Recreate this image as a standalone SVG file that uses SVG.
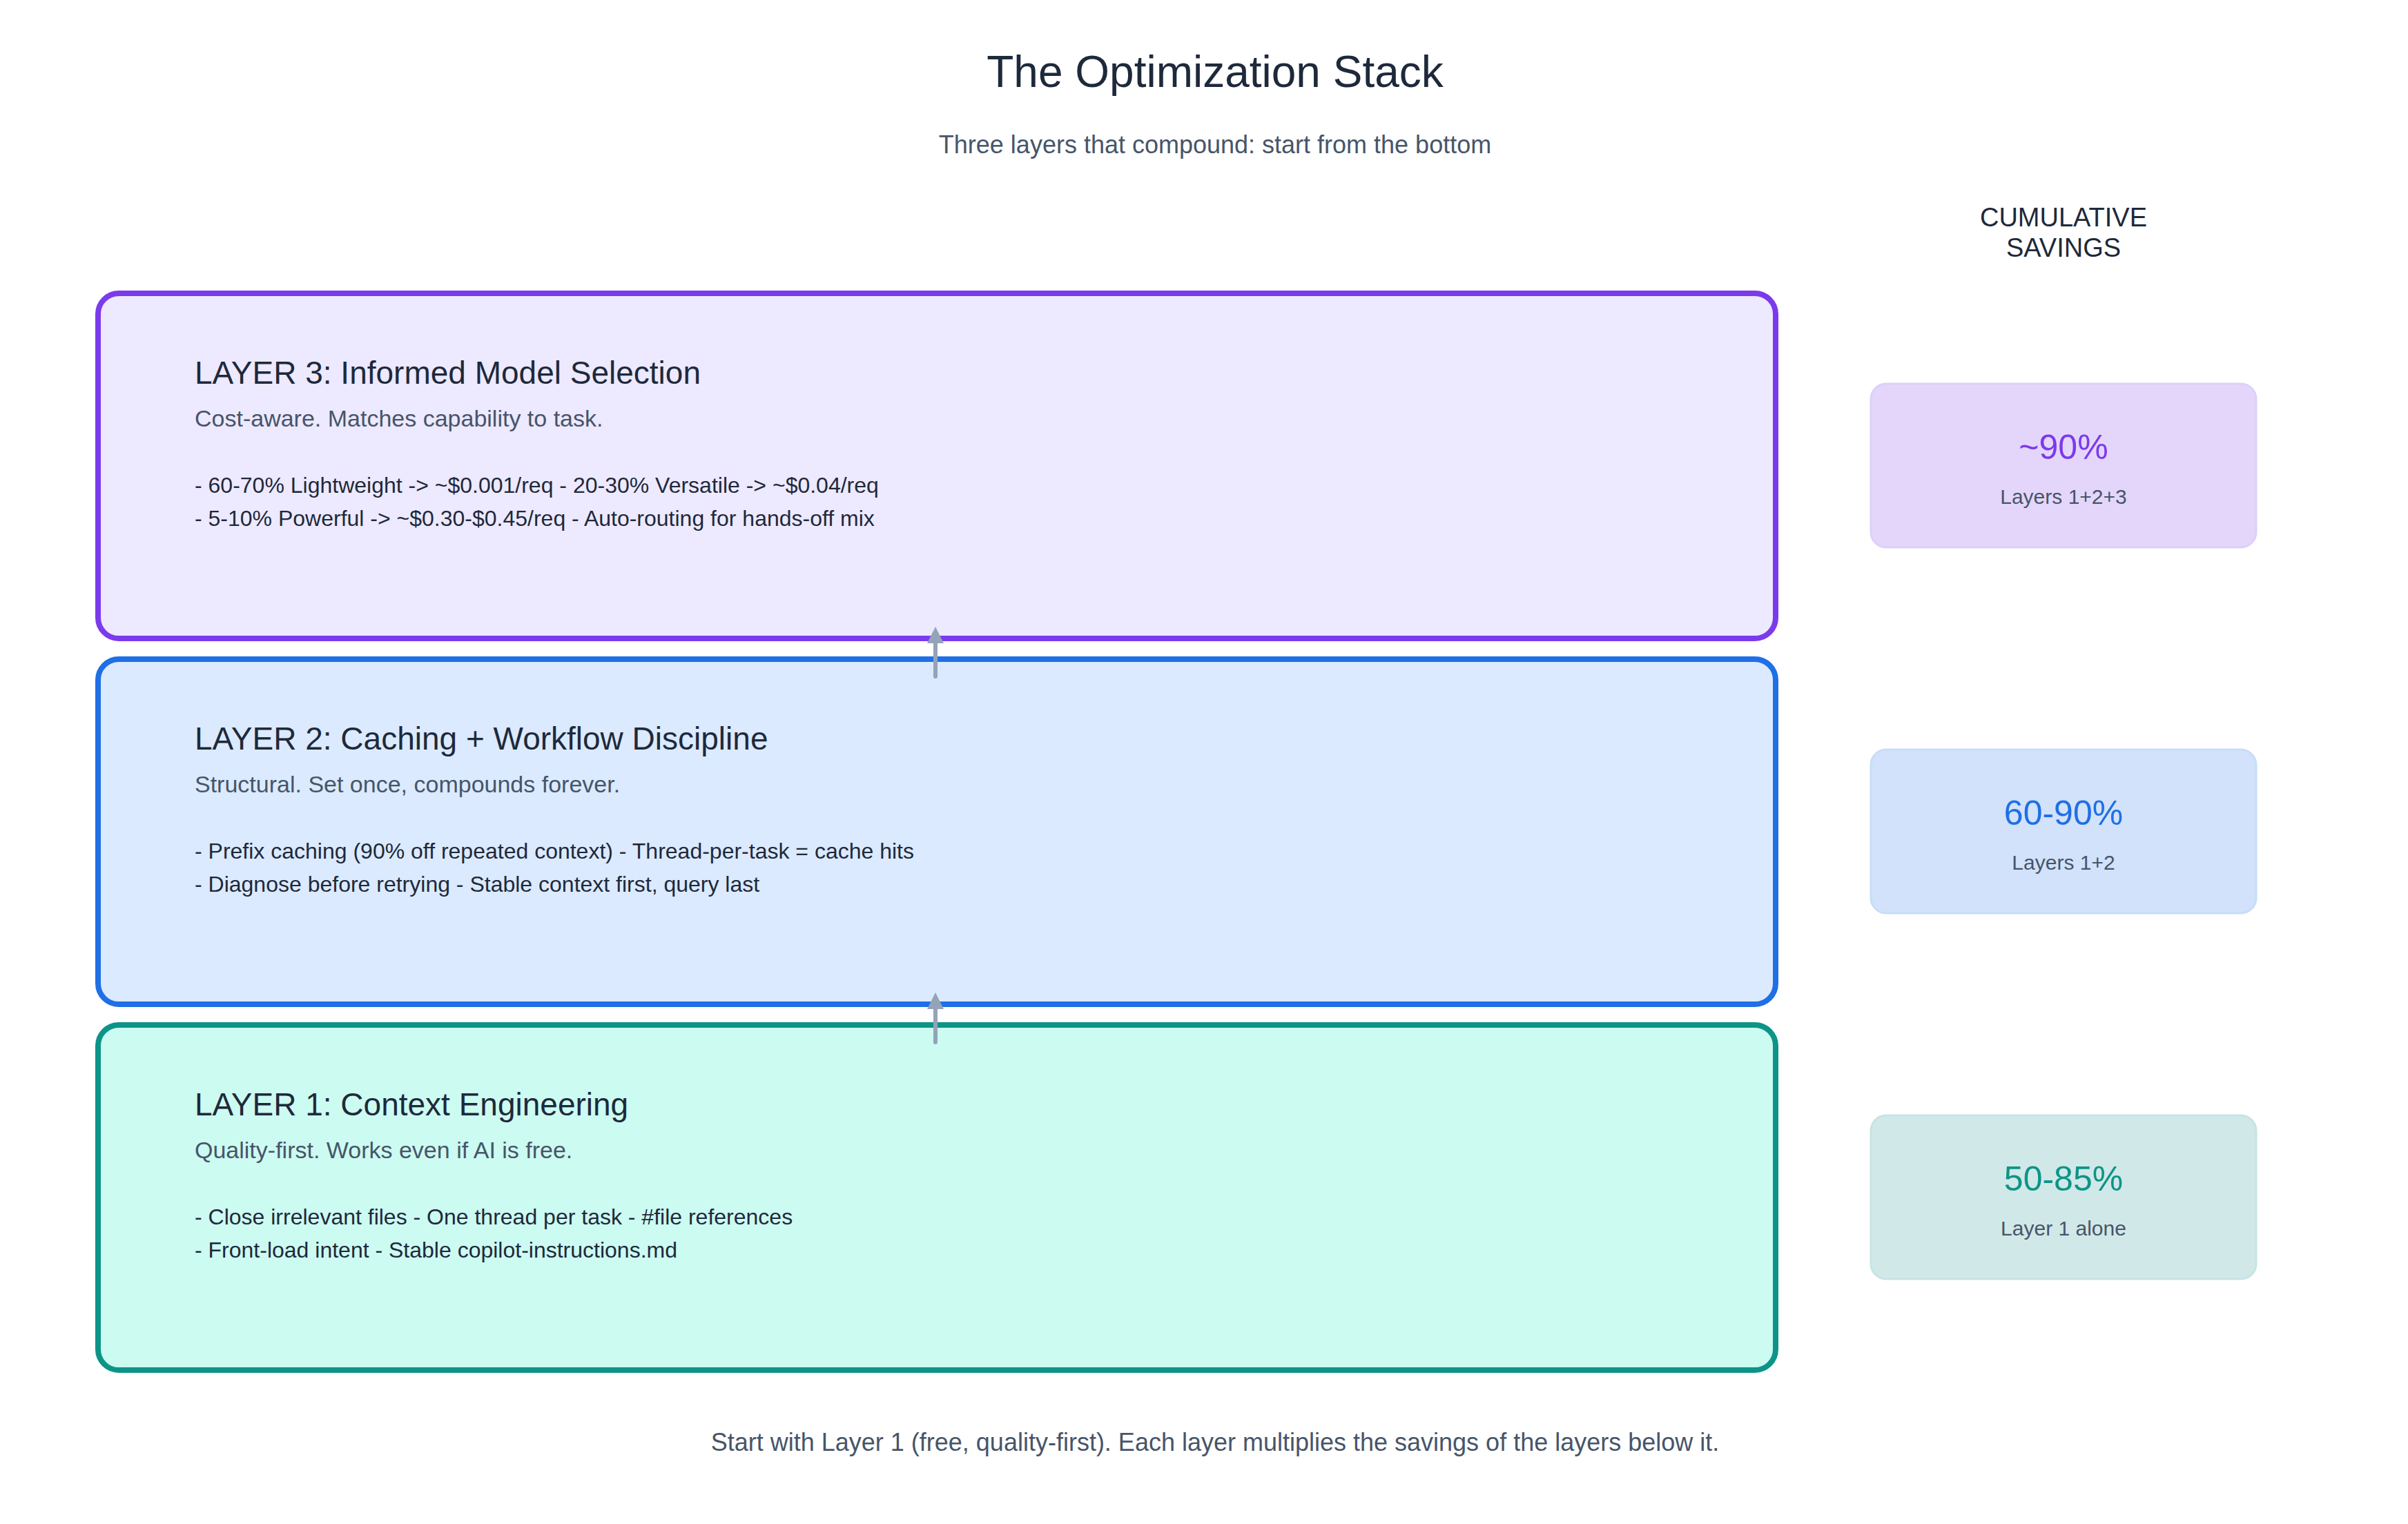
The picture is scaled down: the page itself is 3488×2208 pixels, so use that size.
<svg xmlns="http://www.w3.org/2000/svg" width="3488" height="2208" viewBox="0 0 3488 2208">
<style>
text{font-family:"Liberation Sans",Arial,sans-serif}
.lt{font-size:46px;fill:#1e293b}
.ls{font-size:34px;fill:#475569}
.lb{font-size:32px;fill:#1e293b}
.pct{font-size:50px;text-anchor:middle}
.pl{font-size:30px;fill:#475569;text-anchor:middle}
.box{stroke-width:8}
</style>
<defs><marker id="ah" markerWidth="4" markerHeight="4" refX="2" refY="2" orient="auto" markerUnits="strokeWidth"><path d="M0,0 L4,2 L0,4 z" fill="#94a3b8"/></marker></defs>
<rect width="3488" height="2208" fill="#fff"/>
<text x="1760" y="126" font-size="64" fill="#1e293b" text-anchor="middle">The Optimization Stack</text>
<text x="1760" y="222" font-size="36" fill="#475569" text-anchor="middle">Three layers that compound: start from the bottom</text>
<text x="2989" y="328" font-size="38" fill="#1e293b" text-anchor="middle">CUMULATIVE</text>
<text x="2989" y="372" font-size="38" fill="#1e293b" text-anchor="middle">SAVINGS</text>
<g id="layer3"><rect class="box" x="142" y="425" width="2430" height="500" rx="30" fill="#ede9fe" stroke="#7c3aed"/>
<text class="lt" x="282" y="556">LAYER 3: Informed Model Selection</text>
<text class="ls" x="282" y="618">Cost-aware. Matches capability to task.</text>
<text class="lb" x="282" y="714">- 60-70% Lightweight -&gt; ~$0.001/req  - 20-30% Versatile -&gt; ~$0.04/req</text>
<text class="lb" x="282" y="762">- 5-10% Powerful -&gt; ~$0.30-$0.45/req  - Auto-routing for hands-off mix</text></g>
<g id="layer2"><rect class="box" x="142" y="955" width="2430" height="500" rx="30" fill="#dbeafe" stroke="#1f6fe5"/>
<text class="lt" x="282" y="1086">LAYER 2: Caching + Workflow Discipline</text>
<text class="ls" x="282" y="1148">Structural. Set once, compounds forever.</text>
<text class="lb" x="282" y="1244">- Prefix caching (90% off repeated context)  - Thread-per-task = cache hits</text>
<text class="lb" x="282" y="1292">- Diagnose before retrying  - Stable context first, query last</text></g>
<g id="layer1"><rect class="box" x="142" y="1485" width="2430" height="500" rx="30" fill="#ccfbf1" stroke="#0d9488"/>
<text class="lt" x="282" y="1616">LAYER 1: Context Engineering</text>
<text class="ls" x="282" y="1678">Quality-first. Works even if AI is free.</text>
<text class="lb" x="282" y="1774">- Close irrelevant files  - One thread per task  - #file references</text>
<text class="lb" x="282" y="1822">- Front-load intent  - Stable copilot-instructions.md</text></g>
<g id="connectors" stroke="#94a3b8" stroke-width="6" stroke-linecap="round">
<line x1="1355" y1="980" x2="1355" y2="920" marker-end="url(#ah)"/>
<line x1="1355" y1="1510" x2="1355" y2="1450" marker-end="url(#ah)"/>
</g>
<g id="s3"><rect x="2710" y="556" width="558" height="237" rx="22" fill="#e4d6fa" stroke="#ddd0f8" stroke-width="3"/>
<text class="pct" x="2989" y="665" fill="#7c3aed">~90%</text><text class="pl" x="2989" y="730">Layers 1+2+3</text></g>
<g id="s2"><rect x="2710" y="1086" width="558" height="237" rx="22" fill="#d1e2fa" stroke="#c9dcf8" stroke-width="3"/>
<text class="pct" x="2989" y="1195" fill="#1f6fe5">60-90%</text><text class="pl" x="2989" y="1260">Layers 1+2</text></g>
<g id="s1"><rect x="2710" y="1616" width="558" height="237" rx="22" fill="#d0e8e8" stroke="#c8e3e3" stroke-width="3"/>
<text class="pct" x="2989" y="1725" fill="#0d9488">50-85%</text><text class="pl" x="2989" y="1790">Layer 1 alone</text></g>
<text x="1760" y="2102" font-size="36" fill="#475569" text-anchor="middle">Start with Layer 1 (free, quality-first). Each layer multiplies the savings of the layers below it.</text>
</svg>
